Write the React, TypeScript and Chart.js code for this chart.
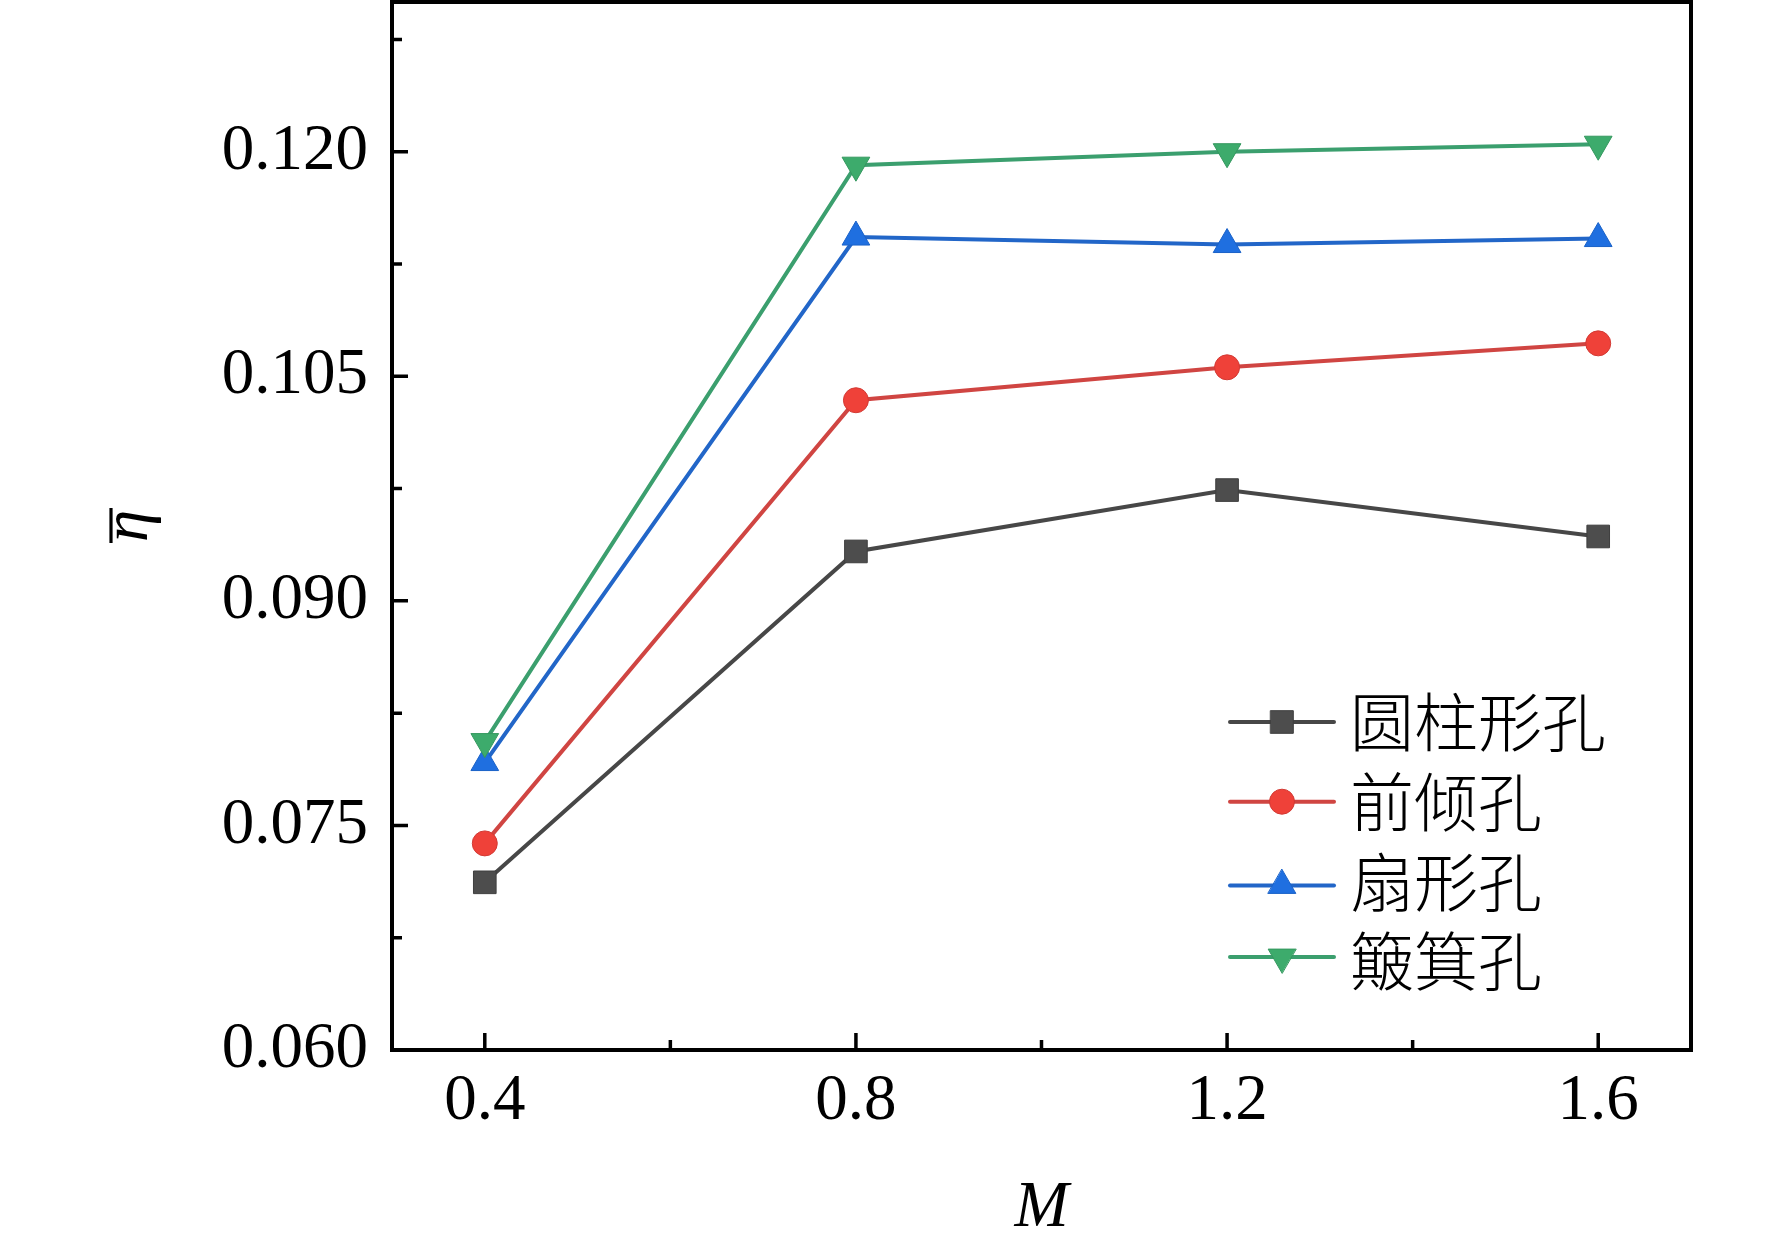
import React, { useEffect, useRef } from 'react';
import { Chart, registerables } from 'chart.js';

Chart.register(...registerables);

// blowing ratio M on the x axis
const massFlux = [0.4, 0.8, 1.2, 1.6];

// averaged film cooling effectiveness per hole type
const cylindrical = [0.0712, 0.0933, 0.0974, 0.0943];
const forwardTilt = [0.0738, 0.1034, 0.1056, 0.1072];
const fanShaped = [0.0792, 0.1143, 0.1138, 0.1142];
const dustpan = [0.0806, 0.1191, 0.12, 0.1205];

const seriesNames = ['圆柱形孔', '前倾孔', '扇形孔', '簸箕孔'];

const xTicks = [0.4, 0.8, 1.2, 1.6];
const xMinorTicks = [0.6, 1.0, 1.4];
const yTicks = [0.06, 0.075, 0.09, 0.105, 0.12];
const yMinorTicks = [0.0675, 0.0825, 0.0975, 0.1125, 0.1275];

const SERIF = '"Liberation Serif", "Times New Roman", serif';

const toPoints = (vals: number[]) => massFlux.map((x, i) => ({ x, y: vals[i] }));

function drawMarker(ctx: CanvasRenderingContext2D, style: string, x: number, y: number, r: number, rotation: number, fill: string, stroke: string) {
  ctx.save();
  ctx.fillStyle = fill;
  ctx.strokeStyle = stroke;
  ctx.lineWidth = 1;
  ctx.beginPath();
  if (style === 'rect') {
    const s = Math.SQRT1_2 * r;
    ctx.rect(x - s, y - s, 2 * s, 2 * s);
  } else if (style === 'circle') {
    ctx.arc(x, y, r, 0, Math.PI * 2);
  } else {
    const rot = (rotation * Math.PI) / 180;
    for (let k = 0; k < 3; k++) {
      const a = rot + (k * 2 * Math.PI) / 3;
      const px = x + Math.sin(a) * r;
      const py = y - Math.cos(a) * r;
      if (k === 0) ctx.moveTo(px, py);
      else ctx.lineTo(px, py);
    }
    ctx.closePath();
  }
  ctx.fill();
  ctx.stroke();
  ctx.restore();
}

// box frame with inward ticks on left/bottom, plus the bar over eta
const boxAxes = {
  id: 'boxAxes',
  afterDatasetsDraw(chart: any) {
    const { ctx, chartArea, scales } = chart;
    const { left, right, top, bottom } = chartArea;
    ctx.save();
    ctx.strokeStyle = '#000';
    ctx.lineWidth = 3.5;
    ctx.beginPath();
    xTicks.forEach((v) => {
      const px = scales.x.getPixelForValue(v);
      ctx.moveTo(px, bottom);
      ctx.lineTo(px, bottom - 17);
    });
    xMinorTicks.forEach((v) => {
      const px = scales.x.getPixelForValue(v);
      ctx.moveTo(px, bottom);
      ctx.lineTo(px, bottom - 10);
    });
    yTicks.forEach((v) => {
      const py = scales.y.getPixelForValue(v);
      ctx.moveTo(left, py);
      ctx.lineTo(left + 16, py);
    });
    yMinorTicks.forEach((v) => {
      const py = scales.y.getPixelForValue(v);
      ctx.moveTo(left, py);
      ctx.lineTo(left + 10, py);
    });
    ctx.stroke();
    ctx.lineWidth = 4;
    ctx.strokeRect(left, top, right - left, bottom - top);

    // macron of the rotated y title
    const midY = (top + bottom) / 2;
    const barX = scales.y.left + 111;
    ctx.lineWidth = 3.2;
    ctx.beginPath();
    ctx.moveTo(barX, midY - 18);
    ctx.lineTo(barX, midY + 17);
    ctx.stroke();
    ctx.restore();
  },
};

// legend drawn inside the plot, bottom right
const insideLegend = {
  id: 'insideLegend',
  afterDraw(chart: any) {
    const ctx = chart.ctx;
    chart.data.datasets.forEach((ds: any, i: number) => {
      const rowY = 722 + i * 79.7;
      let lineY = rowY;
      if (ds.pointStyle === 'triangle') lineY = rowY + (ds.pointRotation ? -ds.pointRadius / 4 : ds.pointRadius / 4);
      ctx.save();
      ctx.strokeStyle = ds.borderColor;
      ctx.lineWidth = 4;
      ctx.lineCap = 'round';
      ctx.beginPath();
      ctx.moveTo(1230, lineY);
      ctx.lineTo(1334, lineY);
      ctx.stroke();
      drawMarker(ctx, ds.pointStyle, 1282, lineY, ds.pointRadius, ds.pointRotation || 0, ds.pointBackgroundColor, ds.pointBorderColor);
      ctx.fillStyle = '#000';
      ctx.font = '300 64px "Noto Sans CJK SC", sans-serif';
      ctx.textBaseline = 'middle';
      ctx.textAlign = 'left';
      ctx.fillText(ds.label, 1350, rowY);
      ctx.restore();
    });
  },
};

export default function App() {
  const canvasRef = useRef<HTMLCanvasElement>(null);

  useEffect(() => {
    document.body.style.margin = '0';
    if (!canvasRef.current) return;

    const chart = new Chart(canvasRef.current, {
      type: 'line',
      data: {
        datasets: [
          {
            label: seriesNames[0],
            data: toPoints(cylindrical),
            borderColor: '#474747',
            borderWidth: 4,
            pointStyle: 'rect',
            pointRadius: 16,
            pointBackgroundColor: '#4d4d4d',
            pointBorderColor: '#3f3f3f',
            pointBorderWidth: 1,
            order: 4,
          },
          {
            label: seriesNames[1],
            data: toPoints(forwardTilt),
            borderColor: '#d04542',
            borderWidth: 4,
            pointStyle: 'circle',
            pointRadius: 12.5,
            pointBackgroundColor: '#ef4139',
            pointBorderColor: '#d23a34',
            pointBorderWidth: 1,
            order: 3,
          },
          {
            label: seriesNames[2],
            data: toPoints(fanShaped),
            borderColor: '#2266c8',
            borderWidth: 4,
            pointStyle: 'triangle',
            pointRadius: 16,
            pointRotation: 0,
            pointBackgroundColor: '#1f6fe0',
            pointBorderColor: '#1a62c8',
            pointBorderWidth: 1,
            order: 2,
          },
          {
            label: seriesNames[3],
            data: toPoints(dustpan),
            borderColor: '#3b9f6e',
            borderWidth: 4,
            pointStyle: 'triangle',
            pointRadius: 16,
            pointRotation: 180,
            pointBackgroundColor: '#3dab6c',
            pointBorderColor: '#35985f',
            pointBorderWidth: 1,
            order: 1,
          },
        ],
      },
      options: {
        responsive: true,
        maintainAspectRatio: false,
        animation: false,
        events: [],
        layout: { autoPadding: false, padding: { top: 2, right: 81, left: 0, bottom: 0 } },
        plugins: {
          legend: { display: false },
          tooltip: { enabled: false },
        },
        elements: { line: { tension: 0 } },
        scales: {
          x: {
            type: 'linear',
            min: 0.3,
            max: 1.7,
            afterBuildTicks: (scale: any) => {
              scale.ticks = xTicks.map((v) => ({ value: v }));
            },
            afterFit: (scale: any) => {
              scale.height = 194;
              scale.paddingLeft = 0;
              scale.paddingRight = 0;
            },
            grid: { display: false, drawTicks: false },
            border: { display: false },
            ticks: {
              padding: 13,
              color: '#000',
              font: { family: SERIF, size: 65, lineHeight: 1.2 },
              callback: (v: any) => Number(v).toFixed(1),
            },
            title: {
              display: true,
              text: 'M',
              color: '#000',
              font: { family: SERIF, size: 65, style: 'italic', lineHeight: 1 },
              padding: { top: 0, bottom: 2.5 },
            },
          },
          y: {
            type: 'linear',
            min: 0.06,
            max: 0.13,
            afterBuildTicks: (scale: any) => {
              scale.ticks = yTicks.map((v) => ({ value: v }));
            },
            afterFit: (scale: any) => {
              scale.width = 392;
              scale.paddingTop = 0;
              scale.paddingBottom = 0;
            },
            grid: { display: false, drawTicks: false },
            border: { display: false },
            ticks: {
              padding: 24,
              color: '#000',
              font: { family: SERIF, size: 65, lineHeight: 1.2 },
              callback: (v: any) => Number(v).toFixed(3),
            },
            title: {
              display: true,
              text: 'η',
              color: '#000',
              font: { family: SERIF, size: 65, style: 'italic', lineHeight: 1 },
              padding: { top: 97, bottom: 0 },
            },
          },
        },
      },
      plugins: [boxAxes, insideLegend],
    });

    return () => chart.destroy();
  }, []);

  return (
    <div style={{ position: 'relative', width: 1772, height: 1244, background: '#fff' }}>
      <canvas ref={canvasRef} />
    </div>
  );
}
